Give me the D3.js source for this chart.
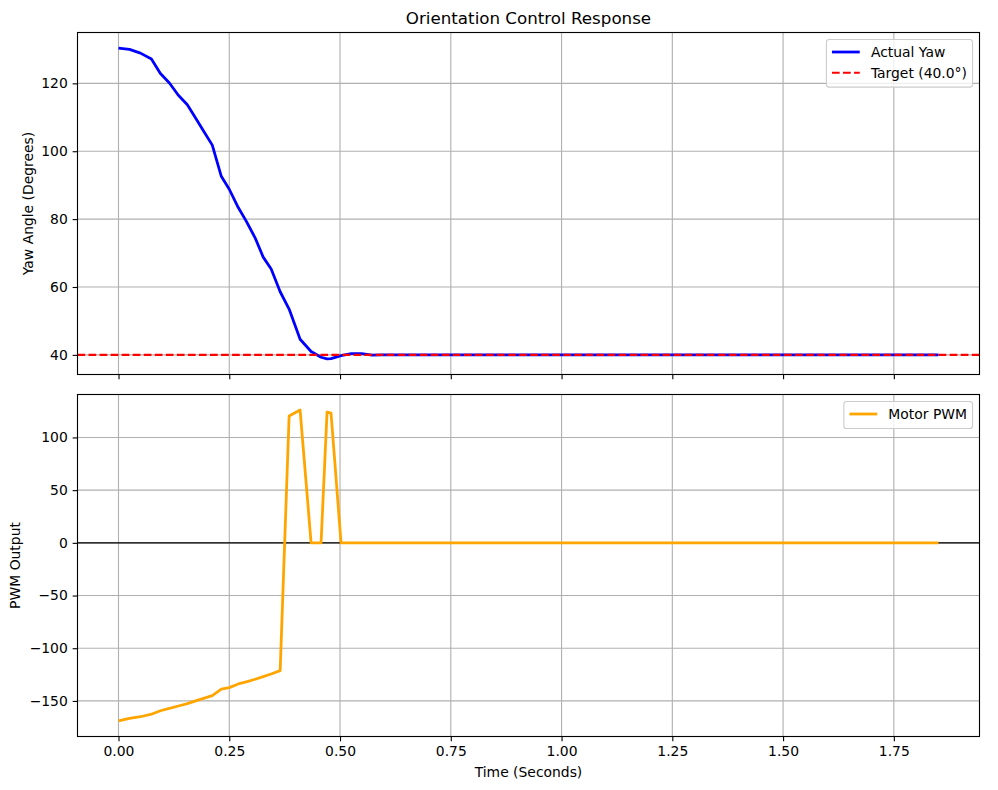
<!DOCTYPE html>
<html>
<head>
<meta charset="utf-8">
<script src="https://cdn.jsdelivr.net/npm/d3@7/dist/d3.min.js"></script>
<style>
  body { margin: 0; background: #fff; }
  svg { display: block; font-family: "DejaVu Sans", sans-serif; }
</style>
</head>
<body>
<svg id="chart" width="998" height="790"></svg>
<script>
// ---- data ----
const timeSec = [
  0.0000, 0.0248, 0.0495, 0.0743, 0.0946, 0.1149, 0.1351, 0.1554, 0.1757, 0.1937,
  0.2117, 0.2320, 0.2500, 0.2703, 0.2883, 0.3086, 0.3266, 0.3446, 0.3649, 0.3851,
  0.4099, 0.4347, 0.4572, 0.4707, 0.4797, 0.5023,
  0.5255, 0.5488, 0.5720, 0.5953, 0.6185, 0.6418, 0.6650, 0.6883, 0.7115, 0.7348,
  0.7580, 0.7813, 0.8045, 0.8278, 0.8510, 0.8743, 0.8975, 0.9208, 0.9440, 0.9673,
  0.9905, 1.0138, 1.0370, 1.0603, 1.0835, 1.1068, 1.1300, 1.1533, 1.1765, 1.1998,
  1.2230, 1.2463, 1.2695, 1.2928, 1.3160, 1.3393, 1.3625, 1.3858, 1.4090, 1.4323,
  1.4555, 1.4788, 1.5020, 1.5253, 1.5485, 1.5718, 1.5950, 1.6183, 1.6415, 1.6648,
  1.6880, 1.7113, 1.7345, 1.7578, 1.7810, 1.8043, 1.8275, 1.8508
];
const yawDeg = [
  130.4, 130.0, 128.9, 127.2, 122.9, 120.1, 116.5, 113.7, 109.4, 105.6,
  101.8, 92.6, 88.8, 83.4, 79.4, 74.4, 68.8, 65.3, 58.6, 53.5,
  44.6, 41.0, 39.3, 38.8, 38.9, 39.8,
  40.4, 40.4, 39.9, 40.0, 40.0, 40.0, 40.0, 40.0, 40.0, 40.0,
  40.0, 40.0, 40.0, 40.0, 40.0, 40.0, 40.0, 40.0, 40.0, 40.0,
  40.0, 40.0, 40.0, 40.0, 40.0, 40.0, 40.0, 40.0, 40.0, 40.0,
  40.0, 40.0, 40.0, 40.0, 40.0, 40.0, 40.0, 40.0, 40.0, 40.0,
  40.0, 40.0, 40.0, 40.0, 40.0, 40.0, 40.0, 40.0, 40.0, 40.0,
  40.0, 40.0, 40.0, 40.0, 40.0, 40.0, 40.0, 40.0
];
const pwmOut = [
  -169.0, -166.5, -165.0, -162.6, -159.3, -157.0, -154.8, -152.6, -149.7, -147.3,
  -145.0, -138.9, -137.4, -133.9, -131.9, -129.4, -126.9, -124.4, -121.2, 120.4,
  126.0, 0, 0, 124.0, 123.0, 0,
  0, 0, 0, 0, 0, 0, 0, 0, 0, 0,
  0, 0, 0, 0, 0, 0, 0, 0, 0, 0,
  0, 0, 0, 0, 0, 0, 0, 0, 0, 0,
  0, 0, 0, 0, 0, 0, 0, 0, 0, 0,
  0, 0, 0, 0, 0, 0, 0, 0, 0, 0,
  0, 0, 0, 0, 0, 0, 0, 0
];
const targetDeg = 40.0;
const xTicks = [0.00, 0.25, 0.50, 0.75, 1.00, 1.25, 1.50, 1.75];
const yawTicks = [40, 60, 80, 100, 120];
const pwmTicks = [-150, -100, -50, 0, 50, 100];
const titleText = "Orientation Control Response";
const xLabel = "Time (Seconds)";
const yawLabel = "Yaw Angle (Degrees)";
const pwmLabel = "PWM Output";
const yawLegend = ["Actual Yaw", "Target (40.0°)"];
const pwmLegend = ["Motor PWM"];

// ---- layout ----
const svg = d3.select("#chart");
const PT = 100 / 72;
const L = 77.5, R = 979.5;
const top1 = 32.5, bot1 = 374.5;
const top2 = 394.5, bot2 = 736.5;
const FS = 13.9;
const DASH = (3.7 * 1.5 * PT).toFixed(2) + "," + (1.6 * 1.5 * PT).toFixed(2);

function padDomain(lo, hi) { const m = (hi - lo) * 0.05; return [lo - m, hi + m]; }

const x = d3.scaleLinear().domain(padDomain(d3.min(timeSec), d3.max(timeSec))).range([L, R]);
const y1 = d3.scaleLinear().domain(padDomain(d3.min(yawDeg), d3.max(yawDeg))).range([bot1, top1]);
const y2 = d3.scaleLinear().domain(padDomain(d3.min(pwmOut), d3.max(pwmOut))).range([bot2, top2]);

const minus = s => s.replace("-", "\u2212");

function panel(top, bot, y, yTicks, showXLabels) {
  const g = svg.append("g");
  g.append("g").selectAll("line").data(xTicks).join("line")
    .attr("x1", d => x(d)).attr("x2", d => x(d)).attr("y1", top).attr("y2", bot)
    .attr("stroke", "#b0b0b0").attr("stroke-width", 0.8 * PT);
  g.append("g").selectAll("line").data(yTicks).join("line")
    .attr("x1", L).attr("x2", R).attr("y1", d => y(d)).attr("y2", d => y(d))
    .attr("stroke", "#b0b0b0").attr("stroke-width", 0.8 * PT);
  const ax = d3.axisBottom(x).tickValues(xTicks).tickSize(3.5 * PT).tickPadding(3.5 * PT)
    .tickFormat(showXLabels ? d3.format(".2f") : () => "");
  const gx = g.append("g").attr("transform", `translate(0,${bot})`).call(ax);
  const ay = d3.axisLeft(y).tickValues(yTicks).tickSize(3.5 * PT).tickPadding(3.5 * PT)
    .tickFormat(d => minus(String(d)));
  const gy = g.append("g").attr("transform", `translate(${L},0)`).call(ay);
  [gx, gy].forEach(a => {
    a.select(".domain").remove();
    a.selectAll(".tick line").attr("stroke", "#000").attr("stroke-width", 0.8 * PT);
    a.selectAll(".tick text").attr("fill", "#000").style("font-size", FS + "px")
      .style("font-family", "DejaVu Sans, sans-serif");
  });
  return g;
}

function frame(top, bot) {
  svg.append("rect").attr("x", L).attr("y", top).attr("width", R - L).attr("height", bot - top)
    .attr("fill", "none").attr("stroke", "#000").attr("stroke-width", 0.8 * PT);
}

function legend(items, rightX, topY) {
  const g = svg.append("g");
  const tmp = items.map(it => g.append("text").style("font-size", FS + "px").text(it.label));
  const w = d3.max(tmp.map(t => t.node().getComputedTextLength()));
  tmp.forEach(t => t.remove());
  const pad = 0.4 * FS, hl = 2 * FS, htp = 0.8 * FS, rowH = 20.7;
  const boxW = pad + hl + htp + w + pad;
  const boxH = pad * 2 + rowH * items.length - (rowH - 13.9) + 2;
  const bx = rightX - boxW;
  g.append("rect").attr("x", bx).attr("y", topY).attr("width", boxW).attr("height", boxH)
    .attr("rx", 2.8).attr("fill", "#fff").attr("fill-opacity", 0.8)
    .attr("stroke", "#cccccc").attr("stroke-width", 0.8 * PT);
  items.forEach((it, i) => {
    const cy = topY + pad + 7 + i * rowH;
    g.append("line").attr("x1", bx + pad).attr("x2", bx + pad + hl).attr("y1", cy).attr("y2", cy)
      .attr("stroke", it.color).attr("stroke-width", it.width)
      .attr("stroke-dasharray", it.dash || null);
    g.append("text").attr("x", bx + pad + hl + htp).attr("y", cy).attr("dy", "0.36em")
      .style("font-size", FS + "px").attr("fill", "#000").text(it.label);
  });
}

// ---- top panel ----
panel(top1, bot1, y1, yawTicks, false);
svg.append("clipPath").attr("id", "c1").append("rect")
  .attr("x", L).attr("y", top1).attr("width", R - L).attr("height", bot1 - top1);
const yawLine = d3.line().x((d, i) => x(timeSec[i])).y(d => y1(d));
svg.append("path").datum(yawDeg).attr("d", yawLine).attr("clip-path", "url(#c1)")
  .attr("fill", "none").attr("stroke", "#0000ff").attr("stroke-width", 2 * PT)
  .attr("stroke-linejoin", "round").attr("stroke-linecap", "butt");
svg.append("line").attr("x1", L).attr("x2", R).attr("y1", y1(targetDeg)).attr("y2", y1(targetDeg))
  .attr("stroke", "#ff0000").attr("stroke-width", 1.5 * PT).attr("stroke-dasharray", DASH);
frame(top1, bot1);
legend([
  { label: yawLegend[0], color: "#0000ff", width: 2 * PT },
  { label: yawLegend[1], color: "#ff0000", width: 1.5 * PT, dash: DASH }
], R - 0.5 * FS, top1 + 0.5 * FS);

// ---- bottom panel ----
panel(top2, bot2, y2, pwmTicks, true);
svg.append("line").attr("x1", L).attr("x2", R).attr("y1", y2(0)).attr("y2", y2(0))
  .attr("stroke", "#000").attr("stroke-width", 1 * PT);
const pwmLine = d3.line().x((d, i) => x(timeSec[i])).y(d => y2(d));
svg.append("path").datum(pwmOut).attr("d", pwmLine)
  .attr("fill", "none").attr("stroke", "#ffa500").attr("stroke-width", 2 * PT)
  .attr("stroke-linejoin", "round").attr("stroke-linecap", "butt");
frame(top2, bot2);
legend([{ label: pwmLegend[0], color: "#ffa500", width: 2 * PT }], R - 0.5 * FS, top2 + 0.5 * FS);

// ---- texts ----
svg.append("text").attr("x", (L + R) / 2).attr("y", top1 - 9).attr("text-anchor", "middle")
  .style("font-size", "16.7px").attr("fill", "#000").text(titleText);
svg.append("text").attr("x", (L + R) / 2).attr("y", 777).attr("text-anchor", "middle")
  .style("font-size", FS + "px").attr("fill", "#000").text(xLabel);
svg.append("text").attr("transform", `translate(33,${(top1 + bot1) / 2}) rotate(-90)`)
  .attr("text-anchor", "middle").style("font-size", FS + "px").attr("fill", "#000").text(yawLabel);
svg.append("text").attr("transform", `translate(20,${(top2 + bot2) / 2}) rotate(-90)`)
  .attr("text-anchor", "middle").style("font-size", FS + "px").attr("fill", "#000").text(pwmLabel);
</script>
</body>
</html>
